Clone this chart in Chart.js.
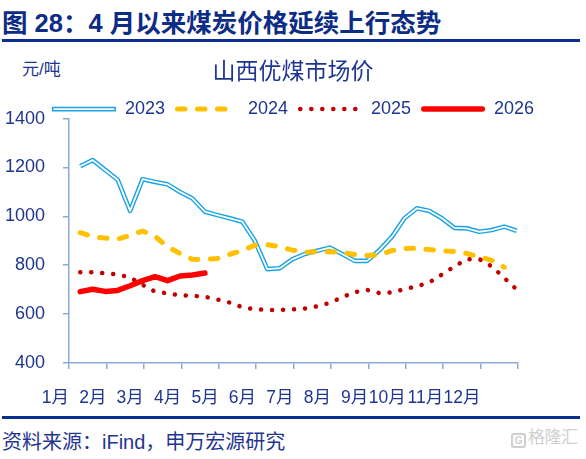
<!DOCTYPE html>
<html>
<head>
<meta charset="utf-8">
<script src="https://cdn.jsdelivr.net/npm/chart.js@4"></script>
<style>
  body { margin: 0; width: 586px; height: 459px; background: #fff; position: relative; overflow: hidden;
         font-family: "Liberation Sans", "Noto Sans CJK SC", sans-serif; color: #1f3690; }
  #title { position: absolute; left: 2px; top: 5px; font-size: 25.5px; font-weight: bold; color: #0c2c86;
           line-height: 36px; white-space: nowrap; }
  .rule { position: absolute; left: 2px; right: 6px; height: 3px; background: #0b2f8f; }
  #unit { position: absolute; left: 22px; top: 58px; font-size: 17px; line-height: 24px; }
  #wrap { position: absolute; left: 0; top: 45px; width: 586px; height: 370px; }
  #source { position: absolute; left: 2px; top: 427px; font-size: 20px; line-height: 30px; white-space: nowrap; }
  #mark { position: absolute; left: 511px; top: 428px; color: #cfcfcf; font-size: 17px; line-height: 20px;
          white-space: nowrap; letter-spacing: -0.5px; }
  #mark span { display: inline-block; width: 11px; height: 11px; border: 2px solid #cfcfcf; border-radius: 3px;
               font-size: 10px; line-height: 11px; text-align: center; margin-right: 2px; vertical-align: -1px;
               font-weight: bold; }
</style>
</head>
<body>
<div id="title">图 28：4 月以来煤炭价格延续上行态势</div>
<div class="rule" style="top:39px"></div>
<div id="unit">元/吨</div>
<div id="wrap"><canvas id="chart"></canvas></div>
<div class="rule" style="top:416px"></div>
<div id="source">资料来源：iFind，申万宏源研究</div>
<div id="mark"><span>G</span>格隆汇</div>

<script>
const MONTHS = ["1月", "2月", "3月", "4月", "5月", "6月", "7月", "8月", "9月", "10月", "11月", "12月"];
const Y_TICKS = [400, 600, 800, 1000, 1200, 1400];

// 旬度数据（每月三个点）
const S2023 = [1205, 1230, 1190, 1150, 1022, 1152, 1141, 1131, 1100, 1073, 1019, 1005,
               992, 978, 900, 784, 788, 824, 846, 859, 872, 846, 818, 818,
               862, 917, 992, 1033, 1022, 992, 953, 951, 937, 944, 958, 941];
const S2024 = [933, 917, 911, 907, 922, 940, 918, 876, 848, 824, 823, 828,
               845, 860, 882, 884, 876, 862, 853, 856, 855, 853, 844, 840,
               843, 860, 868, 870, 864, 860, 856, 848, 835, 820, 792];
const S2025 = [771, 771, 767, 762, 750, 720, 692, 685, 677, 675, 671, 660,
               647, 628, 620, 617, 617, 619, 623, 632, 646, 669, 690, 699,
               686, 689, 702, 714, 730, 762, 795, 825, 825, 795, 748, 700];
const S2026 = [692, 702, 693, 697, 716, 737, 753, 737, 756, 760, 768];

const START = 0.3, STEP = 1 / 3;   // x 轴以月为单位
const TXT = "#1f3690";
const AXIS = "#8caad8";
const LEGEND_LINE = 64;

function pts(arr) {
  return arr.map((v, i) => ({ x: START + i * STEP, y: v }));
}

const base = { pointRadius: 0, tension: 0, fill: false, borderJoinStyle: "round" };

// legend sits lower than Chart.js places it
const legendNudge = {
  id: "legendNudge",
  afterLayout(chart) {
    chart.legend.top += 9.5;
    chart.legend.bottom += 9.5;
  },
};

// legend symbols drawn with the dataset's own dash / cap (Chart.js point-style legend drops the dash)
const legendLines = {
  id: "legendLines",
  afterDraw(chart) {
    const lg = chart.legend;
    const ctx = chart.ctx;
    lg.legendItems.forEach((item, i) => {
      const hb = lg.legendHitBoxes[i];
      const ds = chart.data.datasets[item.datasetIndex];
      const y = hb.top + hb.height / 2;
      const inset = ds.borderCapStyle === "round" ? ds.borderWidth / 2 : 0;
      ctx.save();
      ctx.strokeStyle = ds.borderColor;
      ctx.lineWidth = ds.borderWidth;
      ctx.lineCap = ds.borderCapStyle || "butt";
      ctx.setLineDash(ds.borderDash || []);
      ctx.beginPath();
      ctx.moveTo(hb.left + inset, y);
      ctx.lineTo(hb.left + LEGEND_LINE - inset, y);
      ctx.stroke();
      if (item.datasetIndex === 0) {
        const core = chart.data.datasets[1];
        ctx.strokeStyle = core.borderColor;
        ctx.lineWidth = core.borderWidth;
        ctx.beginPath();
        ctx.moveTo(hb.left + 1.5, y);
        ctx.lineTo(hb.left + LEGEND_LINE - 1.5, y);
        ctx.stroke();
      }
      ctx.restore();
    });
  },
};

Chart.defaults.font.family = '"Liberation Sans", "Noto Sans CJK SC", sans-serif';

new Chart(document.getElementById("chart"), {
  type: "line",
  data: {
    datasets: [
      { ...base, label: "2023", data: pts(S2023), borderColor: "#19a3e2", borderWidth: 4.6, order: 4 },
      { ...base, label: "", data: pts(S2023), borderColor: "#ffffff", borderWidth: 1.8, order: 3 },
      { ...base, label: "2024", data: pts(S2024), borderColor: "#ffc000", borderWidth: 5,
        borderDash: [7.5, 12.5], borderCapStyle: "round", order: 2 },
      { ...base, label: "2025", data: pts(S2025), borderColor: "#c00000", borderWidth: 4.5,
        borderDash: [0.1, 10.9], borderCapStyle: "round", order: 1 },
      { ...base, label: "2026", data: pts(S2026), borderColor: "#ff0000", borderWidth: 5.5,
        borderCapStyle: "round", order: 0 },
    ],
  },
  options: {
    responsive: true,
    maintainAspectRatio: false,
    animation: false,
    events: [],
    layout: { padding: 0 },
    plugins: {
      tooltip: { enabled: false },
      title: {
        display: true,
        text: "山西优煤市场价",
        color: TXT,
        font: { family: '"Noto Sans CJK SC"', size: 23, weight: "normal" },
        padding: { top: 11, bottom: -3 },
      },
      legend: {
        position: "top",
        labels: {
          usePointStyle: true,
          pointStyle: "line",
          pointStyleWidth: LEGEND_LINE,
          padding: 10,
          color: TXT,
          font: { size: 18 },
          filter: item => item.text !== "",
          sort: (a, b) => a.datasetIndex - b.datasetIndex,
          generateLabels(chart) {
            const items = Chart.defaults.plugins.legend.labels.generateLabels(chart);
            items.forEach(it => { it.lineWidth = 0; it.strokeStyle = "rgba(0,0,0,0)"; it.fillStyle = "rgba(0,0,0,0)"; });
            return items;
          },
        },
      },
    },
    scales: {
      x: {
        type: "linear",
        min: 0,
        max: 12,
        border: { color: AXIS, width: 1.5 },
        grid: { drawOnChartArea: false, drawTicks: true, tickLength: 6, color: AXIS, lineWidth: 1.5 },
        ticks: {
          stepSize: 1,
          autoSkip: false,
          maxRotation: 0,
          align: "end",
          padding: 19,
          color: TXT,
          font: { size: 17.5 },
          callback: v => MONTHS[v] ?? "",
        },
        afterFit: s => { s.height = 52; },
      },
      y: {
        min: 400,
        max: 1400,
        border: { color: AXIS, width: 1.5 },
        grid: { drawOnChartArea: false, drawTicks: true, tickLength: 6, color: AXIS, lineWidth: 1.5 },
        ticks: { padding: 18, color: TXT, font: { size: 18 }, callback: v => String(v) },
        afterBuildTicks: s => { s.ticks = Y_TICKS.map(v => ({ value: v })); },
        afterFit: s => { s.width = 69; },
      },
      // empty right-hand strip so title and legend stay centred on the page
      pad: {
        type: "linear",
        position: "right",
        grid: { display: false, drawTicks: false },
        border: { display: false },
        ticks: { display: false },
        afterFit: s => { s.width = 68; },
      },
    },
  },
  plugins: [legendNudge, legendLines],
});
</script>
</body>
</html>
